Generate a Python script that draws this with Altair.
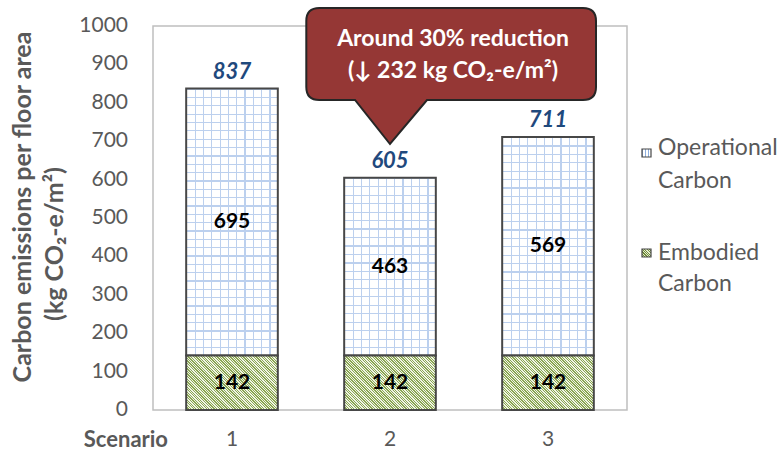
import altair as alt
import pandas as pd

# ---------------- data ----------------
scenarios = ["1", "2", "3"]
embodied = [142, 142, 142]
operational = [695, 463, 569]
y_ticks = [0, 100, 200, 300, 400, 500, 600, 700, 800, 900, 1000]

callout_lines = ["Around 30% reduction", "(↓ 232 kg CO₂-e/m²)"]
legend_op = ["Operational", "Carbon"]
legend_emb = ["Embodied", "Carbon"]
y_title = ["Carbon emissions per floor area", "(kg CO₂-e/m²)"]
x_title = "Scenario"

# ---------------- layout / style ----------------
W, H = 474, 384
YMAX = 1000
PX = H / YMAX
STEP = W / 3
BAR_W = STEP * 0.58
FONT = "Lato"
GREY = "#595959"
EDGE = "#474747"

df = pd.DataFrame({"Scenario": scenarios, "Embodied": embodied, "Operational": operational})
df["Total"] = df["Embodied"] + df["Operational"]
df["OpMid"] = df["Embodied"] + df["Operational"] / 2
df["EmbMid"] = df["Embodied"] / 2
ticks_df = pd.DataFrame({"tick": y_ticks})


def diag_stripes(w, h, period, dark, light):
    """Linear gradient that looks like 45deg '\\' stripes on a w x h box."""
    r = h / w
    k = (1 + r) / (1 + r * r)
    n = max(1, round((w + h) / period))
    stops = []
    for i in range(n):
        a, m, b = i / n, (i + 0.5) / n, (i + 1) / n
        stops += [
            {"offset": a, "color": dark},
            {"offset": m, "color": dark},
            {"offset": m, "color": light},
            {"offset": b, "color": light},
        ]
    return {"gradient": "linear", "x1": 0, "y1": 1, "x2": k, "y2": 1 - k * r, "stops": stops}


def grid_lines(length, period, lw, color, bg, vertical):
    n = max(1, round(length / period))
    stops = []
    for i in range(n):
        a = i / n
        e = min(a + lw / length, (i + 1) / n)
        stops += [
            {"offset": a, "color": color},
            {"offset": e, "color": color},
            {"offset": e, "color": bg},
            {"offset": (i + 1) / n, "color": bg},
        ]
    if vertical:
        return {"gradient": "linear", "x1": 0, "y1": 0, "x2": 1, "y2": 0, "stops": stops}
    return {"gradient": "linear", "x1": 0, "y1": 0, "x2": 0, "y2": 1, "stops": stops}


x_enc = alt.X(
    "Scenario:N",
    sort=scenarios,
    scale=alt.Scale(paddingInner=0.42, paddingOuter=0.21),
    axis=alt.Axis(labelAngle=0, labelFontSize=21, labelColor=GREY, labelFont=FONT,
                  tickSize=0, domain=False, title=None, labelPadding=18),
)
y_scale = alt.Scale(domain=[0, YMAX], nice=False)


def Y(field):
    return alt.Y(field, scale=y_scale, axis=None)


base = alt.Chart(df)
GRID_C = "#BCD0EE"

# operational base (vertical grid lines)
op_base = base.mark_bar(
    fill=grid_lines(BAR_W, 8.3, 1.2, GRID_C, "#FFFFFF", True), strokeWidth=0
).encode(x=x_enc, y=Y("Embodied:Q"), y2="Total:Q")

# operational horizontal lines, per bar (heights differ)
op_h_layers = []
for s, o in zip(scenarios, operational):
    op_h_layers.append(
        base.transform_filter(alt.datum.Scenario == s).mark_bar(
            fill=grid_lines(o * PX, 8.3, 1.2, GRID_C, "rgba(255,255,255,0)", False),
            stroke=EDGE, strokeWidth=2,
        ).encode(x=x_enc, y=Y("Embodied:Q"), y2="Total:Q")
    )

emb = base.mark_bar(
    fill=diag_stripes(BAR_W, embodied[0] * PX, 2.6, "#8BA653", "#F0F5E6"),
    stroke=EDGE, strokeWidth=2,
).encode(x=x_enc, y=Y("Embodied:Q"), y2=alt.Y2(datum=0))

total_txt = base.mark_text(
    dy=-17, font=FONT, fontSize=22, fontWeight="bold", fontStyle="italic",
    color="#1F497D", baseline="middle",
).encode(x=x_enc, y=Y("Total:Q"), text="Total:Q")

op_txt = base.mark_text(
    font=FONT, fontSize=21, fontWeight="bold", color="#000000", baseline="middle"
).encode(x=x_enc, y=Y("OpMid:Q"), text="Operational:Q")

emb_txt = base.mark_text(
    font=FONT, fontSize=21, fontWeight="bold", color="#000000", baseline="middle"
).encode(x=x_enc, y=Y("EmbMid:Q"), text="Embodied:Q")

# y tick labels (drawn as text through the y scale)
y_labels = alt.Chart(ticks_df).mark_text(
    font=FONT, fontSize=21, color=GREY, align="right", baseline="middle", dx=-25
).encode(x=alt.value(0), y=Y("tick:Q"), text="tick:Q")

# ---------------- callout ----------------
callout_path = (
    "M -0.707 -1.36 L 1.93 -1.36 Q 2.06 -1.36 2.06 -1.23 L 2.06 -0.57 "
    "Q 2.06 -0.44 1.93 -0.44 L 0.37 -0.44 L 0 0 L -0.35 -0.44 L -0.707 -0.44 "
    "Q -0.837 -0.44 -0.837 -0.57 L -0.837 -1.23 Q -0.837 -1.36 -0.707 -1.36 Z"
)
call_df = base.transform_filter(alt.datum.Scenario == "2")
callout = call_df.mark_point(
    shape=callout_path, size=40000, filled=True, fill="#953735",
    stroke="#262626", strokeWidth=2, opacity=1,
).encode(x=x_enc, y=alt.value(118))

call_t1 = call_df.mark_text(
    dx=63, font=FONT, fontSize=23, fontWeight="bold", color="white", baseline="alphabetic"
).encode(x=x_enc, y=alt.value(20), text=alt.value(callout_lines[0]))
call_t2 = call_df.mark_text(
    dx=63, font=FONT, fontSize=23, fontWeight="bold", color="white", baseline="alphabetic"
).encode(x=x_enc, y=alt.value(52), text=alt.value(callout_lines[1]))

# ---------------- legend / titles ----------------
one = alt.Chart(pd.DataFrame({"k": [0]}))

leg_op_icon = one.mark_rect(
    fill=grid_lines(9, 3, 1, "#8EB0E0", "#FFFFFF", True), stroke=EDGE, strokeWidth=1.2
).encode(x=alt.value(489), x2=alt.value(498), y=alt.value(123), y2=alt.value(131))
leg_emb_icon = one.mark_rect(
    fill=diag_stripes(9, 8, 2.5, "#6E8A38", "#E4ECCF"), stroke=EDGE, strokeWidth=1.2
).encode(x=alt.value(489), x2=alt.value(498), y=alt.value(223), y2=alt.value(231))


def txt(s, x, y, **kw):
    params = dict(font=FONT, fontSize=21, color=GREY, baseline="middle", align="left")
    params.update(kw)
    return one.mark_text(**params).encode(x=alt.value(x), y=alt.value(y), text=alt.value(s))


legend_texts = [
    txt(legend_op[0], 505, 122, fontSize=23),
    txt(legend_op[1], 505, 155, fontSize=23),
    txt(legend_emb[0], 505, 227, fontSize=23),
    txt(legend_emb[1], 505, 258, fontSize=23),
]
ytitle = [
    txt(y_title[0], -130, 181, angle=270, align="center", fontWeight="bold", fontSize=25),
    txt(y_title[1], -98, 218, angle=270, align="center", fontWeight="bold", fontSize=25),
]
xtitle = txt(x_title, 15, 414, align="right", fontWeight="bold", fontSize=22)

chart = alt.layer(
    op_base, *op_h_layers, emb, total_txt, op_txt, emb_txt, y_labels,
    callout, call_t1, call_t2,
    leg_op_icon, leg_emb_icon, *legend_texts, *ytitle, xtitle,
).properties(
    width=W, height=H,
    padding={"left": 153, "top": 26, "right": 154, "bottom": 43},
    autosize=alt.AutoSizeParams(type="none"),
    background="white",
).configure_view(
    stroke="#BFBFBF", strokeWidth=1.5
)

chart.save("out.html", embed_options={"renderer": "svg", "actions": False})
